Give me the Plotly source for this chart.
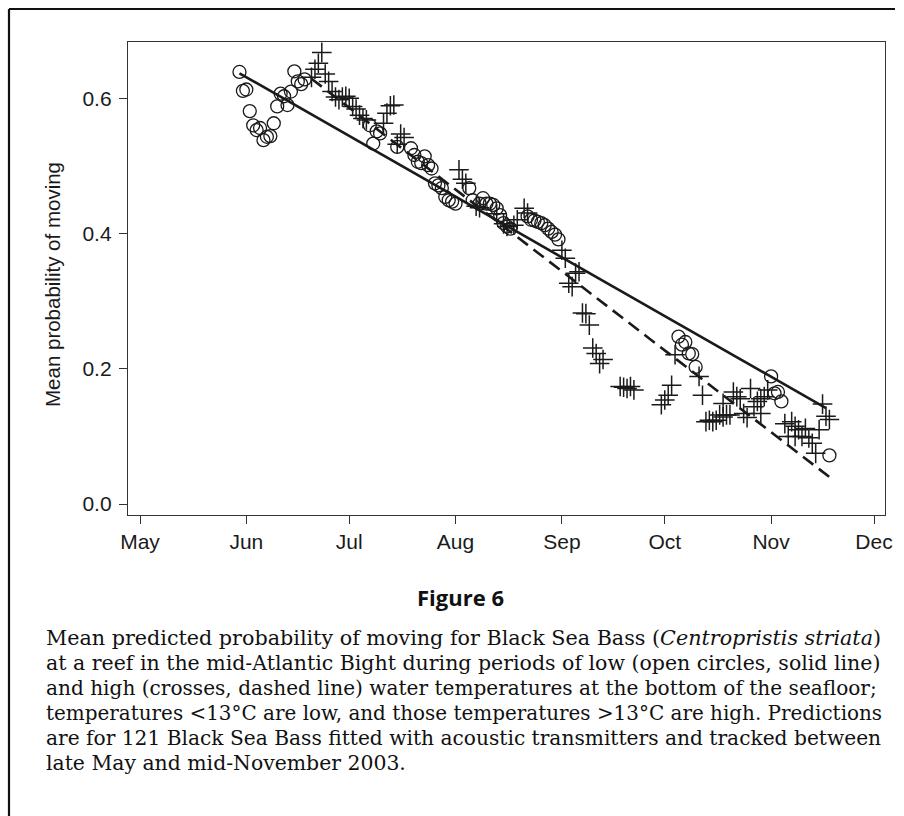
import plotly.graph_objects as go

# ---------------- data ----------------
low_dates = ["2003-05-30","2003-05-31","2003-06-01","2003-06-02","2003-06-03","2003-06-04","2003-06-05",
             "2003-06-06","2003-06-07","2003-06-08","2003-06-09","2003-06-10","2003-06-11","2003-06-12",
             "2003-06-13","2003-06-14","2003-06-15","2003-06-16","2003-06-17","2003-06-18",
             "2003-07-07","2003-07-08","2003-07-09","2003-07-10","2003-07-15",
             "2003-07-19","2003-07-20","2003-07-21","2003-07-22","2003-07-23","2003-07-24","2003-07-25",
             "2003-07-26","2003-07-27","2003-07-28","2003-07-29","2003-07-30","2003-07-31","2003-08-01",
             "2003-08-05","2003-08-06","2003-08-08","2003-08-09","2003-08-10","2003-08-11","2003-08-12",
             "2003-08-13","2003-08-14","2003-08-15","2003-08-16","2003-08-17",
             "2003-08-22","2003-08-23","2003-08-24","2003-08-25","2003-08-26","2003-08-27","2003-08-28",
             "2003-08-29","2003-08-30","2003-08-31",
             "2003-10-05","2003-10-06","2003-10-07","2003-10-08","2003-10-09","2003-10-10",
             "2003-11-01","2003-11-02","2003-11-03","2003-11-04","2003-11-18"]
low_vals = [0.640,0.612,0.614,0.582,0.561,0.554,0.557,
            0.539,0.544,0.545,0.564,0.589,0.608,0.604,
            0.591,0.611,0.641,0.626,0.622,0.629,
            0.561,0.534,0.552,0.549,0.529,
            0.527,0.517,0.507,0.505,0.515,0.502,0.497,
            0.475,0.472,0.468,0.455,0.450,0.448,0.445,
            0.468,0.450,0.445,0.453,0.445,0.445,0.443,
            0.438,0.428,0.416,0.411,0.408,
            0.426,0.421,0.420,0.418,0.416,0.413,0.408,
            0.403,0.399,0.392,
            0.248,0.236,0.240,0.223,0.222,0.203,
            0.189,0.164,0.166,0.152,0.072]

high_dates = ["2003-06-20","2003-06-21","2003-06-22","2003-06-23","2003-06-24","2003-06-25","2003-06-26",
              "2003-06-27","2003-06-28","2003-06-29","2003-06-30","2003-07-01","2003-07-02","2003-07-03",
              "2003-07-04","2003-07-05","2003-07-06","2003-07-11","2003-07-12","2003-07-13","2003-07-14",
              "2003-07-15","2003-07-16","2003-07-17",
              "2003-08-02","2003-08-03","2003-08-04","2003-08-07","2003-08-08","2003-08-13","2003-08-15",
              "2003-08-16","2003-08-18","2003-08-19","2003-08-21","2003-08-22",
              "2003-09-01","2003-09-02","2003-09-03","2003-09-04","2003-09-05","2003-09-06","2003-09-07",
              "2003-09-08","2003-09-09","2003-09-10","2003-09-11","2003-09-12","2003-09-13",
              "2003-09-18","2003-09-19","2003-09-20","2003-09-21","2003-09-22",
              "2003-09-30","2003-10-01","2003-10-02","2003-10-03","2003-10-04",
              "2003-10-11","2003-10-12","2003-10-13","2003-10-14","2003-10-15","2003-10-16","2003-10-17",
              "2003-10-18","2003-10-18","2003-10-19","2003-10-20","2003-10-21","2003-10-22","2003-10-23",
              "2003-10-24","2003-10-25","2003-10-26","2003-10-27","2003-10-28","2003-10-29","2003-10-29",
              "2003-10-30","2003-10-31",
              "2003-11-05","2003-11-06","2003-11-07","2003-11-08","2003-11-08","2003-11-09","2003-11-10",
              "2003-11-11","2003-11-12","2003-11-13","2003-11-14","2003-11-15","2003-11-16","2003-11-17",
              "2003-11-18"]
high_vals = [0.632,0.644,0.653,0.669,0.637,0.626,0.611,
             0.603,0.599,0.603,0.604,0.601,0.589,0.585,
             0.576,0.571,0.569,0.564,0.579,0.590,0.591,
             0.533,0.548,0.543,
             0.495,0.481,0.475,0.441,0.439,0.430,0.415,
             0.411,0.413,0.421,0.438,0.431,
             0.376,0.364,0.327,0.322,0.342,0.344,0.283,
             0.282,0.265,0.231,0.223,0.208,0.214,
             0.174,0.173,0.171,0.174,0.169,
             0.147,0.154,0.161,0.176,0.221,
             0.189,0.161,0.122,0.124,0.122,0.124,0.132,
             0.129,0.149,0.132,0.132,0.166,0.159,0.156,
             0.134,0.128,0.171,0.144,0.152,0.156,0.134,
             0.159,0.169,
             0.119,0.100,0.122,0.115,0.100,0.110,0.100,
             0.112,0.098,0.090,0.075,0.110,0.148,0.130,
             0.125]

low_fit_dates = ["2003-05-30", "2003-11-17"]
low_fit_vals = [0.638, 0.142]
high_fit_dates = ["2003-06-20", "2003-11-18"]
high_fit_vals = [0.630, 0.040]

month_ticks = ["2003-05-01","2003-06-01","2003-07-01","2003-08-01","2003-09-01",
               "2003-10-01","2003-11-01","2003-12-01"]
month_labels = ["May","Jun","Jul","Aug","Sep","Oct","Nov","Dec"]
y_ticks = [0.0, 0.2, 0.4, 0.6]
y_title = "Mean probability of moving"

caption_title = "Figure 6"
caption_lines = [
    "Mean predicted probability of moving for Black Sea Bass (<i>Centropristis striata</i>)",
    "at a reef in the mid-Atlantic Bight during periods of low (open circles, solid line)",
    "and high (crosses, dashed line) water temperatures at the bottom of the seafloor;",
    "temperatures &lt;13°C are low, and those temperatures &gt;13°C are high. Predictions",
    "are for 121 Black Sea Bass fitted with acoustic transmitters and tracked between",
    "late May and mid-November 2003.",
]
# per-line font sizes (emulates the justified column of the original caption)
caption_sizes = [20.7, 20.5, 20.1, 19.95, 20.2, 20.4]

# ---------------- layout geometry (pixels) ----------------
W, H = 904, 816
PL, PR, PT, PB = 128, 885, 42, 515

def px_x(px):
    return (px - PL) / (PR - PL)

def px_y(py):
    return (PB - py) / (PB - PT)

INK = "#1a1a1a"

fig = go.Figure()
fig.add_trace(go.Scatter(x=low_fit_dates, y=low_fit_vals, mode="lines",
                         line=dict(color=INK, width=2.6), showlegend=False, hoverinfo="skip"))
fig.add_trace(go.Scatter(x=high_fit_dates, y=high_fit_vals, mode="lines",
                         line=dict(color=INK, width=2.6, dash="13px,7px"), showlegend=False,
                         hoverinfo="skip"))
fig.add_trace(go.Scatter(x=low_dates, y=low_vals, mode="markers",
                         marker=dict(symbol="circle-open", size=13, color=INK,
                                     line=dict(width=1.3, color=INK)),
                         showlegend=False))
fig.add_trace(go.Scatter(x=high_dates, y=high_vals, mode="markers",
                         marker=dict(symbol="cross-thin-open", size=14, color=INK,
                                     line=dict(width=1.5, color=INK)),
                         showlegend=False))

axis_font = dict(family="Liberation Sans, Arial, sans-serif", size=21, color=INK)

fig.update_xaxes(range=["2003-04-27 12:00", "2003-12-04 05:00"],
                 tickvals=month_ticks, ticktext=month_labels,
                 ticks="outside", ticklen=8, tickwidth=1.3, tickcolor="#333",
                 showline=True, linecolor="#333", linewidth=1.4, mirror=True,
                 showgrid=False, zeroline=False, tickfont=axis_font)
fig.update_yaxes(range=[-0.0163, 0.6844], tickvals=y_ticks, tickformat=".1f",
                 ticks="outside", ticklen=8, tickwidth=1.3, tickcolor="#333",
                 showline=True, linecolor="#333", linewidth=1.4, mirror=True,
                 showgrid=False, zeroline=False, tickfont=axis_font, ticklabelstandoff=3)

# outer frame of the figure box (top and left edges)
border = dict(color="#111", width=2.2)
fig.add_shape(type="line", xref="paper", yref="paper",
              x0=px_x(9), x1=px_x(895), y0=px_y(9), y1=px_y(9), line=border, layer="above")
fig.add_shape(type="line", xref="paper", yref="paper",
              x0=px_x(9), x1=px_x(9), y0=px_y(9), y1=px_y(840), line=border, layer="above")

annotations = [
    dict(text=y_title, xref="paper", yref="paper", x=px_x(52), y=px_y(285),
         xanchor="center", yanchor="middle", textangle=-90, showarrow=False,
         font=dict(family="Liberation Sans, Arial, sans-serif", size=20.5, color=INK)),
    dict(text="<b>" + caption_title + "</b>", xref="paper", yref="paper",
         x=px_x(460), y=px_y(597), xanchor="center", yanchor="middle", showarrow=False,
         font=dict(family="Open Sans, Liberation Sans, sans-serif", size=22, color="#111")),
]
for i, line in enumerate(caption_lines):
    annotations.append(dict(text=line, xref="paper", yref="paper",
                            x=px_x(44), y=px_y(638 + 25 * i), xanchor="left", yanchor="middle",
                            showarrow=False, align="left",
                            font=dict(family="DejaVu Serif, serif", size=caption_sizes[i],
                                      color="#111")))
fig.update_layout(annotations=annotations)

fig.update_layout(width=W, height=H, margin=dict(l=PL, r=W - PR, t=PT, b=H - PB),
                  paper_bgcolor="white", plot_bgcolor="white", showlegend=False)

fig.write_html("out.html")
